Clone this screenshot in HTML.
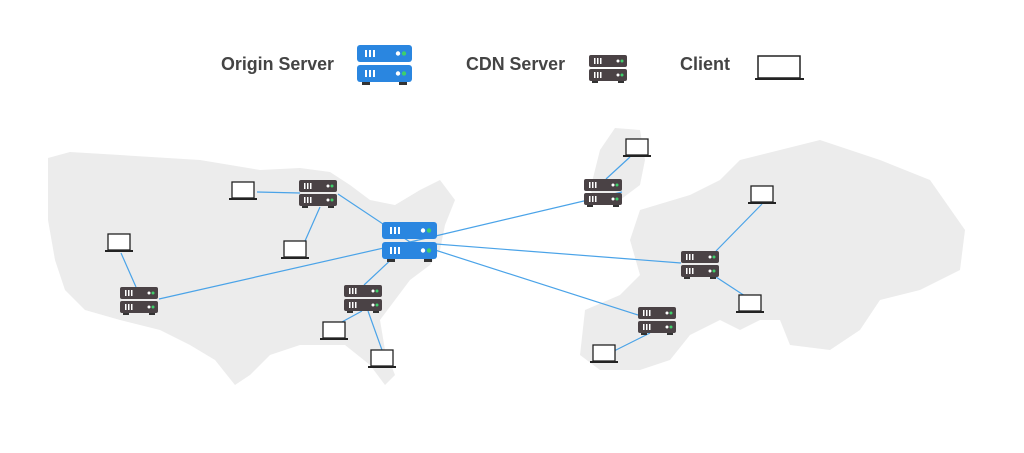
<!DOCTYPE html>
<html><head><style>
body{margin:0;background:#fff;width:1024px;height:448px;overflow:hidden;font-family:"Liberation Sans",sans-serif}
</style></head><body>
<svg width="1024" height="448" viewBox="0 0 1024 448" xmlns="http://www.w3.org/2000/svg">
<defs>
<g id="o"><rect x="0" y="0" width="55" height="17" rx="3" fill="#2a86e0"/><rect x="8" y="5" width="2" height="7" fill="#fff"/><rect x="12" y="5" width="2" height="7" fill="#fff"/><rect x="16" y="5" width="2" height="7" fill="#fff"/><circle cx="41" cy="8.5" r="2.2" fill="#fff"/><circle cx="47" cy="8.5" r="2.2" fill="#3ecf6a"/>
<rect x="0" y="20" width="55" height="17" rx="3" fill="#2a86e0"/><rect x="8" y="25" width="2" height="7" fill="#fff"/><rect x="12" y="25" width="2" height="7" fill="#fff"/><rect x="16" y="25" width="2" height="7" fill="#fff"/><circle cx="41" cy="28.5" r="2.2" fill="#fff"/><circle cx="47" cy="28.5" r="2.2" fill="#3ecf6a"/>
<rect x="5" y="37" width="8" height="3" fill="#333"/><rect x="42" y="37" width="8" height="3" fill="#333"/></g>
<g id="c"><rect x="0" y="0" width="38" height="12" rx="2" fill="#4a4245"/><rect x="5" y="3" width="1.5" height="6" fill="#fff"/><rect x="8" y="3" width="1.5" height="6" fill="#fff"/><rect x="11" y="3" width="1.5" height="6" fill="#fff"/><circle cx="29" cy="6" r="1.5" fill="#fff"/><circle cx="33" cy="6" r="1.5" fill="#3ecf6a"/>
<rect x="0" y="14" width="38" height="12" rx="2" fill="#4a4245"/><rect x="5" y="17" width="1.5" height="6" fill="#fff"/><rect x="8" y="17" width="1.5" height="6" fill="#fff"/><rect x="11" y="17" width="1.5" height="6" fill="#fff"/><circle cx="29" cy="20" r="1.5" fill="#fff"/><circle cx="33" cy="20" r="1.5" fill="#3ecf6a"/>
<rect x="3" y="26" width="6" height="2" fill="#333"/><rect x="29" y="26" width="6" height="2" fill="#333"/></g>
<g id="l"><rect x="3" y="0" width="22" height="16" fill="#fff" stroke="#222" stroke-width="1.3"/><rect x="0" y="16" width="28" height="2" fill="#222"/></g>
</defs>
<g fill="#ececec">
<path d="M48,158 L70,152 L120,155 L200,160 L260,170 L300,168 L330,172 L350,185 L370,200 L395,205 L420,190 L440,180 L455,200 L445,225 L440,250 L430,265 L410,280 L395,300 L380,320 L385,350 L395,375 L385,385 L370,365 L345,345 L300,345 L270,355 L250,375 L235,385 L215,360 L190,345 L160,330 L120,320 L85,310 L65,290 L55,260 L48,220 Z"/>
<path d="M600,150 L615,128 L640,130 L645,160 L640,185 L620,200 L600,205 L590,190 Z"/>
<path d="M640,210 L690,195 L720,180 L740,160 L780,150 L820,140 L880,160 L930,180 L965,230 L960,270 L920,290 L880,300 L860,330 L830,350 L790,345 L780,320 L760,320 L740,330 L720,320 L690,335 L670,360 L640,370 L600,370 L580,355 L585,310 L620,295 L640,275 L630,240 Z"/>
</g>
<g stroke="#4aa3e8" stroke-width="1.2" fill="none">
<line x1="410" y1="242" x2="338" y2="194"/><line x1="410" y1="242" x2="159" y2="299"/><line x1="410" y1="242" x2="364" y2="285"/>
<line x1="410" y1="242" x2="622" y2="192"/><line x1="410" y1="242" x2="681" y2="263"/><line x1="410" y1="242" x2="638" y2="315"/>
<line x1="300" y1="193" x2="257" y2="192"/><line x1="320" y1="207" x2="305" y2="241"/><line x1="121" y1="253" x2="136" y2="287"/>
<line x1="362" y1="311" x2="340" y2="323"/><line x1="368" y1="311" x2="382" y2="350"/><line x1="606" y1="179" x2="630" y2="157"/>
<line x1="716" y1="251" x2="762" y2="204"/><line x1="716" y1="277" x2="745" y2="296"/><line x1="650" y1="333" x2="612" y2="352"/>
</g>
<use href="#o" x="382" y="222"/>
<use href="#c" x="299" y="180"/><use href="#c" x="584" y="179"/><use href="#c" x="120" y="287"/><use href="#c" x="344" y="285"/><use href="#c" x="681" y="251"/><use href="#c" x="638" y="307"/>
<use href="#l" x="229" y="182"/><use href="#l" x="105" y="234"/><use href="#l" x="281" y="241"/><use href="#l" x="320" y="322"/><use href="#l" x="368" y="350"/><use href="#l" x="623" y="139"/><use href="#l" x="748" y="186"/><use href="#l" x="736" y="295"/><use href="#l" x="590" y="345"/>
<g font-size="18" font-weight="bold" fill="#444"><text x="221" y="70" textLength="113" lengthAdjust="spacingAndGlyphs">Origin Server</text><text x="466" y="70" textLength="99" lengthAdjust="spacingAndGlyphs">CDN Server</text><text x="680" y="70" textLength="50" lengthAdjust="spacingAndGlyphs">Client</text></g>
<use href="#o" x="357" y="45"/>
<use href="#c" x="589" y="55"/>
<g transform="translate(755,56)"><rect x="3" y="0" width="42" height="22" fill="#fff" stroke="#222" stroke-width="1.5"/><rect x="0" y="22" width="49" height="2" fill="#222"/></g>
</svg>
</body></html>
